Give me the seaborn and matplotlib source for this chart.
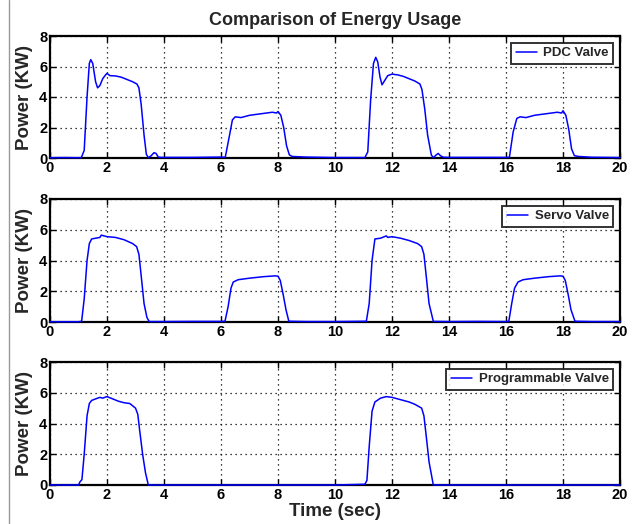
import numpy as np
import pandas as pd
import matplotlib
matplotlib.use("Agg")
import matplotlib.pyplot as plt
from matplotlib.lines import Line2D
import seaborn as sns

# ---- data ----
pdc_t = [0.0, 0.5, 1.0, 1.1, 1.2, 1.3, 1.38, 1.43, 1.5, 1.6, 1.67, 1.75, 1.85, 1.95, 2.0, 2.1, 2.3, 2.5, 2.7,
         2.9, 3.05, 3.12, 3.2, 3.3, 3.38, 3.45, 3.55, 3.65, 3.72, 3.8, 3.9, 5.0, 6.0, 6.15, 6.3, 6.4, 6.5,
         6.7, 7.0, 7.4, 7.8, 7.95, 8.0, 8.1, 8.2, 8.3, 8.4, 8.5, 9.0, 10.0, 11.05, 11.15, 11.25, 11.35, 11.43,
         11.5, 11.58, 11.65, 11.75, 11.85, 12.0, 12.2, 12.4, 12.6, 12.8, 12.98, 13.05, 13.15, 13.25, 13.38,
         13.45, 13.55, 13.62, 13.7, 13.8, 14.0, 15.0, 16.0, 16.12, 16.25, 16.38, 16.5, 16.7, 17.0, 17.4,
         17.8, 17.95, 18.0, 18.1, 18.2, 18.3, 18.4, 18.55, 19.0, 20.0]
pdc_p = [0.02, 0.03, 0.02, 0.03, 0.5, 4.0, 6.2, 6.45, 6.2, 5.0, 4.6, 4.75, 5.2, 5.45, 5.55, 5.4, 5.38, 5.3, 5.15,
         5.0, 4.85, 4.6, 3.5, 1.5, 0.25, 0.02, 0.15, 0.35, 0.3, 0.06, 0.04, 0.04, 0.06, 0.05, 1.5, 2.5, 2.7,
         2.65, 2.8, 2.9, 3.0, 2.95, 3.05, 2.8, 2.0, 0.8, 0.2, 0.1, 0.06, 0.03, 0.03, 0.4, 3.8, 6.2, 6.6,
         6.3, 5.3, 4.8, 5.1, 5.4, 5.5, 5.45, 5.35, 5.2, 5.05, 4.85, 4.5, 3.2, 1.5, 0.2,
         0.02, 0.2, 0.3, 0.15, 0.05, 0.04, 0.04, 0.04, 0.05, 1.7, 2.6, 2.7, 2.65, 2.8, 2.9,
         3.0, 2.95, 3.1, 2.8, 1.9, 0.6, 0.15, 0.1, 0.05, 0.03]

servo_t = [0.0, 1.0, 1.11, 1.2, 1.3, 1.38, 1.46, 1.6, 1.75, 1.8, 2.0, 2.3, 2.6, 2.9, 3.04, 3.12, 3.2, 3.3, 3.4,
           3.48, 4.0, 5.0, 6.0, 6.14, 6.25, 6.35, 6.43, 6.6, 7.0, 7.5, 7.9, 8.0, 8.08, 8.18, 8.28, 8.38,
           9.0, 10.0, 11.1, 11.2, 11.3, 11.4, 11.6, 11.8, 11.85, 12.0, 12.3, 12.6, 12.9, 13.04, 13.12, 13.2,
           13.3, 13.45, 14.0, 15.0, 16.0, 16.1, 16.2, 16.3, 16.42, 16.6, 17.0, 17.5, 17.9, 18.0, 18.08,
           18.18, 18.28, 18.42, 19.0, 20.0]
servo_p = [0.02, 0.02, 0.05, 1.5, 4.0, 5.1, 5.4, 5.45, 5.5, 5.65, 5.55, 5.5, 5.35, 5.1, 4.9, 4.4, 3.0, 1.2, 0.3,
           0.03, 0.03, 0.04, 0.04, 0.05, 1.0, 2.2, 2.6, 2.75, 2.85, 2.95, 3.0, 2.98, 2.7, 1.8, 0.8, 0.05,
           0.03, 0.03, 0.05, 1.2, 4.0, 5.4, 5.45, 5.6, 5.5, 5.55, 5.45, 5.3, 5.1, 4.9, 4.4, 3.0,
           1.2, 0.04, 0.03, 0.04, 0.03, 0.05, 1.2, 2.2, 2.6, 2.75, 2.85, 2.95, 3.0, 2.98, 2.7,
           1.8, 0.8, 0.05, 0.03, 0.03]

prog_t = [0.0, 1.0, 1.05, 1.12, 1.2, 1.3, 1.38, 1.46, 1.6, 1.75, 1.85, 2.0, 2.2, 2.4, 2.6, 2.8, 3.0, 3.08, 3.15,
          3.25, 3.35, 3.45, 3.5, 4.15, 10.0, 11.05, 11.12, 11.2, 11.3, 11.4, 11.6, 11.8, 12.0, 12.2, 12.4,
          12.6, 12.8, 13.04, 13.12, 13.2, 13.3, 13.45, 14.0, 20.0]
prog_p = [0.0, 0.0, 0.2, 0.35, 2.0, 4.5, 5.3, 5.5, 5.6, 5.7, 5.65, 5.75, 5.6, 5.45, 5.35, 5.3, 5.0, 4.6, 3.5,
          2.0, 0.8, 0.0, np.nan, 0.0, 0.0, 0.05, 0.3, 2.5, 4.8, 5.4, 5.65, 5.75, 5.7, 5.6, 5.5,
          5.4, 5.25, 5.0, 4.5, 3.2, 1.5, 0.0, 0.0, 0.0]

series = [("PDC Valve", pdc_t, pdc_p),
          ("Servo Valve", servo_t, servo_p),
          ("Programmable Valve", prog_t, prog_p)]

x_ticks = [0, 2, 4, 6, 8, 10, 12, 14, 16, 18, 20]
y_ticks = [0, 2, 4, 6, 8]

sns.set_style("ticks")
plt.rcParams['font.family'] = ['Liberation Sans', 'DejaVu Sans']

fig = plt.figure(figsize=(6.37, 5.24), dpi=100)
W, H = 637, 524
tops = [36, 199, 362]
bots = [158, 322, 485]
axes = []
for top, bot in zip(tops, bots):
    ax = fig.add_axes([50 / W, 1 - bot / H, (620 - 50) / W, (bot - top) / H])
    axes.append(ax)

for ax, (name, t, p) in zip(axes, series):
    df = pd.DataFrame({"t": t, "p": p})
    sns.lineplot(data=df, x="t", y="p", ax=ax, color="#0000ff", linewidth=1.1,
                 label=name, sort=False, estimator=None, zorder=3, clip_on=False)
    ax.set_xlim(0, 20)
    ax.set_ylim(0, 8)
    ax.set_xticks(x_ticks)
    ax.set_yticks(y_ticks)
    ax.set_xticklabels([str(v) for v in x_ticks], fontsize=10.5, fontweight='bold')
    ax.set_yticklabels([str(v) for v in y_ticks], fontsize=10.5, fontweight='bold')
    ax.grid(True, linestyle=(0, (1, 3)), color='black', linewidth=0.9)
    ax.tick_params(direction='in', length=4, width=1, top=True, right=True, pad=2, colors='black')
    for s in ax.spines.values():
        s.set_linewidth(1.6)
        s.set_color('black')
    ax.set_ylabel("Power (KW)", fontsize=13.5, fontweight='bold', labelpad=4)
    ax.set_xlabel("")
    leg = ax.legend(loc='upper right', fontsize=9.5, frameon=True, fancybox=False,
                    handlelength=1.6, borderpad=0.35, handletextpad=0.5,
                    borderaxespad=0.5)
    leg.get_frame().set_edgecolor('black')
    leg.get_frame().set_linewidth(1.4)
    leg.set_zorder(5)
    for txt in leg.get_texts():
        txt.set_fontweight('bold')

axes[0].set_title("Comparison of Energy Usage", fontsize=13, fontweight='bold', pad=8)
axes[2].set_xlabel("Time (sec)", fontsize=13.5, fontweight='bold', labelpad=1)

fig.add_artist(Line2D([9 / W, 9 / W], [0, 1], color='#999999', linewidth=1.0))

fig.savefig("out.png", dpi=100)
